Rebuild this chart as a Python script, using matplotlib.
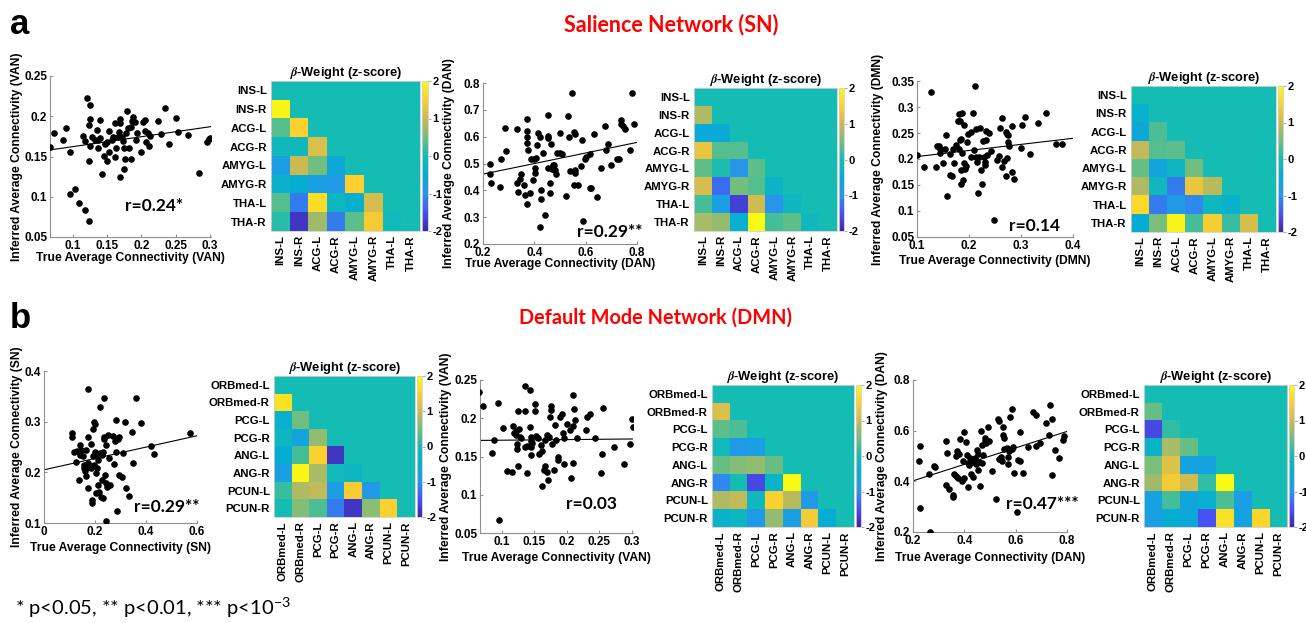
import numpy as np
import matplotlib
matplotlib.use('Agg')
import matplotlib.pyplot as plt
from matplotlib.colors import LinearSegmentedColormap

plt.rcParams['font.family'] = ['Liberation Sans', 'DejaVu Sans']
plt.rcParams['font.weight'] = 'bold'
plt.rcParams['axes.labelweight'] = 'bold'
plt.rcParams['axes.titleweight'] = 'bold'
plt.rcParams['axes.unicode_minus'] = False
plt.rcParams['mathtext.fontset'] = 'stix'

W, H = 1306, 623

# parula-like colormap
parula = LinearSegmentedColormap.from_list('parula', [
    (0.2422, 0.1504, 0.6603), (0.2810, 0.3228, 0.9579), (0.1540, 0.5902, 0.9218),
    (0.0250, 0.6800, 0.8300), (0.0800, 0.7400, 0.7100), (0.4420, 0.7481, 0.5033),
    (0.7964, 0.7258, 0.3361), (0.9892, 0.8136, 0.1885), (0.9769, 0.9839, 0.0805)])

sn_rois = ['INS-L', 'INS-R', 'ACG-L', 'ACG-R', 'AMYG-L', 'AMYG-R', 'THA-L', 'THA-R']
dmn_rois = ['ORBmed-L', 'ORBmed-R', 'PCG-L', 'PCG-R', 'ANG-L', 'ANG-R', 'PCUN-L', 'PCUN-R']

# beta weights, lower triangle (row i -> columns 0..i-1)
w_sn_van = [[], [1.95], [0.35, 1.5], [-0.15, -0.15, 1.15], [-0.8, 1.0, 0.5, -0.6],
            [-0.35, -0.5, -0.8, -0.9, 1.5], [0.35, -1.2, 1.65, -0.2, -0.4, 1.1],
            [0.1, -1.8, 0.75, -1.2, 0.4, 1.4, -0.1]]
w_sn_dan = [[], [0.85], [-0.55, -0.55], [1.3, 0.35, 0.35], [0.4, 0.05, -1.0, 0.4],
            [1.1, -1.3, 0.5, 0.35, -0.3], [0.25, -0.8, -1.7, 1.05, -1.0, -0.2],
            [0.8, 0.7, -0.45, 2.0, 0.25, 0.4, -0.15]]
w_sn_dmn = [[], [-0.4], [-0.6, 0.3], [0.95, 0.35, 0.4], [0.45, -0.7, -0.25, 0.5],
            [0.85, -0.15, -1.2, 1.3, 0.9], [1.6, -1.2, -0.9, -1.1, -0.15, -0.35],
            [-0.5, 0.55, 1.9, 0.25, 1.45, 0.2, 1.1]]
w_dmn_sn = [[], [1.7], [-0.4, 0.5], [-0.2, -0.7, 0.7], [-0.5, 0.25, 1.5, -1.8],
            [-0.8, 1.95, 0.8, -0.1, -0.25], [0.2, 0.85, 0.95, -0.85, 1.45, -0.9],
            [0.0, 0.6, 0.3, -1.2, -1.8, 0.65, 1.5]]
w_dmn_van = [[], [1.15], [0.4, 0.3], [-0.1, -0.9, -0.8], [0.45, 0.6, 0.7, 0.45],
             [-1.1, 0.0, -1.6, -0.3, 2.0], [0.85, 0.95, -0.15, 1.5, 0.9, -0.9],
             [-0.35, -0.2, -0.9, 0.7, -0.8, 1.4, -0.5]]
w_dmn_dan = [[], [0.45], [-1.6, 0.15], [-0.3, 0.8, 0.45], [0.55, 1.2, -0.75, -0.75],
             [0.75, 1.4, 1.05, 0.15, 2.0], [-0.75, 0.25, -0.7, -0.4, 0.3, -0.8],
             [-0.8, -0.5, -0.6, -1.5, 1.7, -0.75, 1.55]]

# scatter points (true, inferred)
sc_sn_van = np.array([
    (0.066, 0.162), (0.072, 0.179), (0.085, 0.171), (0.089, 0.186), (0.095, 0.155), (0.095, 0.104),
    (0.103, 0.110), (0.108, 0.092), (0.117, 0.083), (0.123, 0.070), (0.120, 0.223), (0.125, 0.214),
    (0.124, 0.196), (0.123, 0.189), (0.124, 0.163), (0.123, 0.145), (0.115, 0.176), (0.117, 0.169),
    (0.128, 0.174), (0.132, 0.171), (0.135, 0.183), (0.136, 0.171), (0.137, 0.160), (0.140, 0.195),
    (0.140, 0.173), (0.142, 0.128), (0.145, 0.151), (0.147, 0.166), (0.149, 0.168), (0.150, 0.145),
    (0.152, 0.156), (0.153, 0.182), (0.157, 0.171), (0.158, 0.174), (0.161, 0.149), (0.162, 0.191),
    (0.163, 0.161), (0.165, 0.174), (0.167, 0.180), (0.168, 0.125), (0.168, 0.191), (0.169, 0.197),
    (0.171, 0.174), (0.173, 0.169), (0.174, 0.135), (0.174, 0.161), (0.176, 0.147), (0.178, 0.179),
    (0.179, 0.206), (0.180, 0.185), (0.182, 0.160), (0.184, 0.187), (0.185, 0.147), (0.186, 0.194),
    (0.187, 0.199), (0.190, 0.193), (0.192, 0.170), (0.194, 0.179), (0.199, 0.155), (0.202, 0.193),
    (0.205, 0.195), (0.205, 0.182), (0.206, 0.168), (0.210, 0.179), (0.211, 0.163), (0.213, 0.176),
    (0.225, 0.194), (0.228, 0.178), (0.234, 0.210), (0.241, 0.165), (0.250, 0.198), (0.253, 0.181),
    (0.269, 0.177), (0.284, 0.130), (0.296, 0.168), (0.299, 0.172), (0.301, 0.173)])
sc_sn_dan = np.array([
    (0.226, 0.500), (0.226, 0.460), (0.231, 0.426), (0.269, 0.517), (0.268, 0.411), (0.284, 0.633),
    (0.291, 0.546), (0.334, 0.629), (0.334, 0.429), (0.336, 0.393), (0.343, 0.442), (0.349, 0.462),
    (0.360, 0.420), (0.365, 0.383), (0.370, 0.348), (0.373, 0.665), (0.373, 0.621), (0.373, 0.600),
    (0.373, 0.577), (0.375, 0.550), (0.382, 0.389), (0.388, 0.515), (0.395, 0.439), (0.399, 0.515),
    (0.401, 0.482), (0.401, 0.463), (0.408, 0.519), (0.412, 0.569), (0.414, 0.612), (0.421, 0.600),
    (0.425, 0.401), (0.425, 0.367), (0.434, 0.540), (0.440, 0.309), (0.421, 0.262), (0.452, 0.680),
    (0.452, 0.604), (0.455, 0.596), (0.455, 0.483), (0.460, 0.426), (0.460, 0.389), (0.466, 0.571),
    (0.469, 0.478), (0.473, 0.496), (0.478, 0.493), (0.479, 0.476), (0.483, 0.461), (0.488, 0.538),
    (0.499, 0.538), (0.506, 0.534), (0.499, 0.614), (0.525, 0.379), (0.532, 0.677), (0.535, 0.598),
    (0.538, 0.472), (0.547, 0.763), (0.553, 0.618), (0.560, 0.609), (0.555, 0.419), (0.558, 0.476),
    (0.560, 0.466), (0.570, 0.420), (0.583, 0.491), (0.587, 0.587), (0.590, 0.285), (0.596, 0.518),
    (0.603, 0.523), (0.616, 0.534), (0.618, 0.410), (0.622, 0.408), (0.632, 0.611), (0.645, 0.374),
    (0.658, 0.482), (0.677, 0.639), (0.679, 0.552), (0.687, 0.574), (0.700, 0.494), (0.723, 0.517),
    (0.730, 0.517), (0.736, 0.661), (0.739, 0.649), (0.745, 0.640), (0.752, 0.630), (0.771, 0.552),
    (0.779, 0.763), (0.787, 0.649)])
sc_sn_dmn = np.array([
    (0.100, 0.208), (0.114, 0.184), (0.126, 0.329), (0.136, 0.185), (0.138, 0.225), (0.142, 0.225),
    (0.145, 0.212), (0.145, 0.220), (0.150, 0.192), (0.154, 0.220), (0.156, 0.247), (0.158, 0.128),
    (0.163, 0.209), (0.163, 0.169), (0.167, 0.167), (0.170, 0.220), (0.172, 0.193), (0.175, 0.226),
    (0.178, 0.273), (0.180, 0.286), (0.180, 0.219), (0.182, 0.273), (0.183, 0.236), (0.185, 0.152),
    (0.185, 0.238), (0.187, 0.289), (0.187, 0.212), (0.185, 0.178), (0.188, 0.159), (0.190, 0.265),
    (0.191, 0.193), (0.192, 0.181), (0.195, 0.187), (0.197, 0.232), (0.198, 0.248), (0.203, 0.252),
    (0.203, 0.203), (0.207, 0.289), (0.210, 0.218), (0.212, 0.341), (0.213, 0.257), (0.214, 0.203),
    (0.215, 0.195), (0.217, 0.134), (0.219, 0.203), (0.222, 0.260), (0.224, 0.179), (0.225, 0.151),
    (0.227, 0.234), (0.228, 0.204), (0.230, 0.189), (0.231, 0.194), (0.233, 0.236), (0.233, 0.254),
    (0.235, 0.207), (0.238, 0.250), (0.242, 0.216), (0.249, 0.082), (0.254, 0.199), (0.257, 0.206),
    (0.260, 0.259), (0.263, 0.279), (0.263, 0.185), (0.267, 0.197), (0.272, 0.168), (0.273, 0.201),
    (0.272, 0.252), (0.273, 0.249), (0.275, 0.232), (0.275, 0.246), (0.276, 0.225), (0.283, 0.264),
    (0.283, 0.175), (0.286, 0.162), (0.300, 0.222), (0.301, 0.266), (0.307, 0.280), (0.318, 0.210),
    (0.332, 0.270), (0.348, 0.289), (0.367, 0.228), (0.378, 0.228)])
sc_dmn_sn = np.array([
    (0.109, 0.278), (0.109, 0.270), (0.118, 0.241), (0.126, 0.221), (0.131, 0.242), (0.138, 0.185),
    (0.142, 0.253), (0.142, 0.234), (0.147, 0.244), (0.151, 0.232), (0.155, 0.215), (0.157, 0.208),
    (0.161, 0.202), (0.165, 0.192), (0.165, 0.244), (0.171, 0.270), (0.173, 0.169), (0.174, 0.218),
    (0.178, 0.211), (0.183, 0.255), (0.185, 0.208), (0.187, 0.139), (0.190, 0.146), (0.191, 0.285),
    (0.194, 0.232), (0.197, 0.215), (0.197, 0.300), (0.201, 0.295), (0.201, 0.241), (0.204, 0.198),
    (0.204, 0.160), (0.204, 0.236), (0.207, 0.208), (0.210, 0.224), (0.211, 0.175), (0.214, 0.162),
    (0.174, 0.365), (0.220, 0.329), (0.218, 0.239), (0.224, 0.152), (0.227, 0.234), (0.229, 0.185),
    (0.232, 0.149), (0.233, 0.241), (0.236, 0.346), (0.236, 0.270), (0.237, 0.266), (0.240, 0.195),
    (0.242, 0.253), (0.244, 0.103), (0.244, 0.179), (0.246, 0.172), (0.252, 0.274), (0.256, 0.228),
    (0.260, 0.175), (0.272, 0.272), (0.275, 0.217), (0.278, 0.261), (0.282, 0.240), (0.283, 0.303),
    (0.286, 0.124), (0.290, 0.265), (0.295, 0.194), (0.296, 0.270), (0.305, 0.190), (0.309, 0.238),
    (0.318, 0.300), (0.322, 0.170), (0.334, 0.154), (0.347, 0.279), (0.348, 0.218), (0.362, 0.346),
    (0.381, 0.297), (0.421, 0.252), (0.430, 0.236), (0.571, 0.278)])
sc_dmn_van = np.array([
    (0.065, 0.234), (0.071, 0.216), (0.088, 0.171), (0.084, 0.155), (0.094, 0.220), (0.095, 0.067),
    (0.102, 0.187), (0.107, 0.131), (0.116, 0.130), (0.117, 0.190), (0.118, 0.181), (0.121, 0.183),
    (0.122, 0.178), (0.123, 0.166), (0.123, 0.160), (0.125, 0.137), (0.125, 0.209), (0.126, 0.186),
    (0.128, 0.175), (0.130, 0.174), (0.135, 0.242), (0.136, 0.209), (0.136, 0.163), (0.138, 0.128),
    (0.139, 0.164), (0.143, 0.237), (0.143, 0.188), (0.144, 0.163), (0.144, 0.175), (0.145, 0.152),
    (0.145, 0.170), (0.146, 0.167), (0.151, 0.218), (0.151, 0.209), (0.153, 0.177), (0.156, 0.174),
    (0.157, 0.153), (0.160, 0.165), (0.161, 0.157), (0.162, 0.112), (0.164, 0.132), (0.166, 0.171),
    (0.167, 0.138), (0.169, 0.178), (0.170, 0.130), (0.171, 0.176), (0.171, 0.119), (0.173, 0.176),
    (0.174, 0.202), (0.175, 0.211), (0.176, 0.216), (0.177, 0.166), (0.180, 0.132), (0.182, 0.191),
    (0.183, 0.171), (0.187, 0.150), (0.187, 0.145), (0.190, 0.201), (0.192, 0.205), (0.194, 0.181),
    (0.195, 0.174), (0.196, 0.140), (0.200, 0.193), (0.205, 0.184), (0.207, 0.122), (0.209, 0.190),
    (0.210, 0.231), (0.210, 0.142), (0.211, 0.212), (0.213, 0.198), (0.216, 0.174), (0.229, 0.184),
    (0.231, 0.201), (0.235, 0.206), (0.243, 0.174), (0.252, 0.129), (0.254, 0.153), (0.256, 0.214),
    (0.272, 0.162), (0.288, 0.140), (0.298, 0.166), (0.301, 0.199), (0.302, 0.188)])
sc_dmn_dan = np.array([
    (0.226, 0.541), (0.223, 0.481), (0.229, 0.295), (0.265, 0.199), (0.263, 0.430), (0.281, 0.461),
    (0.285, 0.456), (0.330, 0.560), (0.330, 0.384), (0.334, 0.511), (0.341, 0.370), (0.354, 0.347),
    (0.356, 0.337), (0.359, 0.429), (0.367, 0.501), (0.367, 0.422), (0.372, 0.518), (0.376, 0.413),
    (0.379, 0.509), (0.383, 0.566), (0.389, 0.406), (0.392, 0.400), (0.396, 0.481), (0.398, 0.593),
    (0.399, 0.415), (0.406, 0.555), (0.409, 0.502), (0.413, 0.472), (0.415, 0.376), (0.419, 0.465),
    (0.422, 0.494), (0.426, 0.429), (0.428, 0.476), (0.435, 0.419), (0.441, 0.494), (0.445, 0.469),
    (0.450, 0.524), (0.454, 0.507), (0.454, 0.446), (0.458, 0.475), (0.461, 0.380), (0.465, 0.599),
    (0.467, 0.544), (0.467, 0.472), (0.471, 0.502), (0.480, 0.560), (0.480, 0.570), (0.484, 0.553),
    (0.493, 0.616), (0.497, 0.560), (0.506, 0.439), (0.523, 0.331), (0.530, 0.645), (0.535, 0.639),
    (0.536, 0.488), (0.543, 0.498), (0.546, 0.481), (0.552, 0.616), (0.552, 0.583), (0.555, 0.570),
    (0.556, 0.528), (0.565, 0.531), (0.569, 0.468), (0.572, 0.498), (0.575, 0.518), (0.578, 0.652),
    (0.585, 0.685), (0.585, 0.527), (0.589, 0.534), (0.594, 0.433), (0.604, 0.279), (0.611, 0.485),
    (0.615, 0.594), (0.617, 0.481), (0.628, 0.433), (0.647, 0.534), (0.669, 0.673), (0.678, 0.662),
    (0.678, 0.538), (0.695, 0.551), (0.719, 0.629), (0.728, 0.583), (0.735, 0.702), (0.741, 0.646),
    (0.741, 0.426), (0.754, 0.524), (0.767, 0.492), (0.783, 0.564), (0.787, 0.580)])

# fit lines (slope, intercept) and r labels
fits = [(0.123, 0.150), (0.197, 0.421), (0.117, 0.193), (0.112, 0.205), (0.008, 0.1705), (0.325, 0.337)]
r_text = ['r=0.24*', 'r=0.29**', 'r=0.14', 'r=0.29**', 'r=0.03', 'r=0.47***']
net_x = ['VAN', 'DAN', 'DMN', 'SN', 'VAN', 'DAN']

fig = plt.figure(figsize=(W / 100, H / 100), dpi=100)


def box(l, t, r, b):
    return fig.add_axes([l / W, 1 - b / H, (r - l) / W, (b - t) / H])


def scatter_panel(pos, pts, fit, xlim, ylim, xt, yt, xtl, ytl, rt, rpos, net, ylx, xly):
    ax = box(*pos)
    ax.scatter(pts[:, 0], pts[:, 1], s=14, c='k', zorder=3)
    xs = np.array(xlim)
    ax.plot(xs, fit[0] * xs + fit[1], color='k', lw=0.8)
    ax.set_xlim(xlim)
    ax.set_ylim(ylim)
    for s in ['top', 'right']:
        ax.spines[s].set_visible(False)
    for s in ['left', 'bottom']:
        ax.spines[s].set_color('#909090')
        ax.spines[s].set_linewidth(0.8)
    ax.tick_params(direction='in', length=2, color='#909090', pad=2)
    ax.set_xticks(xt)
    ax.set_xticklabels(xtl, fontweight='bold', fontsize=8.5)
    ax.set_yticks(yt)
    ax.set_yticklabels(ytl, fontweight='bold', fontsize=8.5)
    ax.set_xlabel('True Average Connectivity (%s)' % net, fontsize=8.7, fontweight='bold')
    ax.set_ylabel('Inferred Average Connectivity (%s)' % net, fontsize=8.7, fontweight='bold')
    ax.yaxis.set_label_coords(ylx, 0.5)
    ax.xaxis.set_label_coords(0.5, xly)
    ax.text(rpos[0], rpos[1], rt, transform=ax.transAxes, ha='center', va='center',
            fontsize=12.5, family='Lato', fontweight='bold')
    return ax


def heat_panel(pos, cpos, tri, labels):
    m = np.zeros((8, 8))
    for i, row in enumerate(tri):
        m[i, :len(row)] = row
    ax = box(*pos)
    im = ax.imshow(m, cmap=parula, vmin=-2, vmax=2, aspect='auto', interpolation='nearest')
    ax.tick_params(length=0, pad=3)
    ax.set_xticks(range(8))
    ax.set_xticklabels(labels, rotation=90, fontweight='bold', fontsize=8.2)
    ax.set_yticks(range(8))
    ax.set_yticklabels(labels, fontweight='bold', fontsize=8.2)
    for s in ax.spines.values():
        s.set_color('#d0d0d0')
        s.set_linewidth(0.6)
    ax.set_title(r'$\it{\beta}$-Weight (z-score)', fontsize=9.3, fontweight='bold', pad=3)
    cax = box(*cpos)
    cb = fig.colorbar(im, cax=cax, ticks=[-2, -1, 0, 1, 2])
    cb.outline.set_edgecolor('#d0d0d0')
    cb.outline.set_linewidth(0.6)
    cax.tick_params(length=2, pad=1, color='#b0b0b0')
    cax.set_yticks([-2, -1, 0, 1, 2])
    cax.set_yticklabels(['-2', '-1', '0', '1', '2'], fontweight='bold', fontsize=8)
    return ax


sc_data = [sc_sn_van, sc_sn_dan, sc_sn_dmn, sc_dmn_sn, sc_dmn_van, sc_dmn_dan]
sc_pos = [(50, 76, 211, 237), (483, 83, 637, 244), (917, 81, 1073, 237),
          (44, 371, 197, 523), (480, 380, 633, 533), (913, 380, 1067, 532)]
r_pos = [(0.646, 0.19), (0.82, 0.075), (0.756, 0.07), (0.80, 0.105), (0.73, 0.19), (0.84, 0.184)]
ylab_x = [-0.168, -0.185, -0.21, -0.137, -0.183, -0.165]
xlab_y = [-0.093, -0.085, -0.115, -0.125, -0.124, -0.13]

van_xt = [0.1, 0.15, 0.2, 0.25, 0.3]
van_yt = [0.05, 0.1, 0.15, 0.2, 0.25]
dan_t = [0.2, 0.4, 0.6, 0.8]

scatter_panel(sc_pos[0], sc_data[0], fits[0], (0.066, 0.302), (0.05, 0.25), van_xt, van_yt,
              ['0.1', '0.15', '0.2', '0.25', '0.3'], ['0.05', '0.1', '0.15', '0.2', '0.25'],
              r_text[0], r_pos[0], net_x[0], ylab_x[0], xlab_y[0])
scatter_panel(sc_pos[1], sc_data[1], fits[1], (0.2, 0.8), (0.2, 0.8), dan_t,
              [0.2, 0.3, 0.4, 0.5, 0.6, 0.7, 0.8], ['0.2', '0.4', '0.6', '0.8'],
              ['0.2', '0.3', '0.4', '0.5', '0.6', '0.7', '0.8'], r_text[1], r_pos[1], net_x[1],
              ylab_x[1], xlab_y[1])
scatter_panel(sc_pos[2], sc_data[2], fits[2], (0.1, 0.4), (0.05, 0.35), [0.1, 0.2, 0.3, 0.4],
              [0.05, 0.1, 0.15, 0.2, 0.25, 0.3, 0.35], ['0.1', '0.2', '0.3', '0.4'],
              ['0.05', '0.1', '0.15', '0.2', '0.25', '0.3', '0.35'], r_text[2], r_pos[2], net_x[2],
              ylab_x[2], xlab_y[2])
scatter_panel(sc_pos[3], sc_data[3], fits[3], (0, 0.6), (0.1, 0.4), [0, 0.2, 0.4, 0.6],
              [0.1, 0.2, 0.3, 0.4], ['0', '0.2', '0.4', '0.6'], ['0.1', '0.2', '0.3', '0.4'],
              r_text[3], r_pos[3], net_x[3], ylab_x[3], xlab_y[3])
scatter_panel(sc_pos[4], sc_data[4], fits[4], (0.066, 0.302), (0.05, 0.25), van_xt, van_yt,
              ['0.1', '0.15', '0.2', '0.25', '0.3'], ['0.05', '0.1', '0.15', '0.2', '0.25'],
              r_text[4], r_pos[4], net_x[4], ylab_x[4], xlab_y[4])
scatter_panel(sc_pos[5], sc_data[5], fits[5], (0.2, 0.8), (0.2, 0.8), dan_t, dan_t,
              ['0.2', '0.4', '0.6', '0.8'], ['0.2', '0.4', '0.6', '0.8'], r_text[5], r_pos[5],
              net_x[5], ylab_x[5], xlab_y[5])

heat_panel((271, 81, 420, 231), (422, 81, 428, 231), w_sn_van, sn_rois)
heat_panel((694, 88, 837, 231), (839, 88, 844, 231), w_sn_dan, sn_rois)
heat_panel((1131, 86, 1276, 232), (1278, 86, 1283, 232), w_sn_dmn, sn_rois)
heat_panel((274, 376, 415, 517), (417, 376, 422, 517), w_dmn_sn, dmn_rois)
heat_panel((712, 385, 854, 527), (856, 385, 861, 527), w_dmn_van, dmn_rois)
heat_panel((1144, 385, 1287, 527), (1289, 385, 1294, 527), w_dmn_dan, dmn_rois)

fig.text(10 / W, 1 - 25 / H, 'a', fontsize=25, fontweight='bold', va='center')
fig.text(10 / W, 1 - 318 / H, 'b', fontsize=25, fontweight='bold', va='center')
fig.text(671 / W, 1 - 25 / H, 'Salience Network (SN)', color='#ff0000', fontsize=15.5,
         family='Lato', fontweight='bold', ha='center', va='center')
fig.text(656 / W, 1 - 318 / H, 'Default Mode Network (DMN)', color='#ff0000', fontsize=14.3,
         family='Lato', fontweight='bold', ha='center', va='center')
fig.text(15 / W, 1 - 608 / H, r'* p<0.05, ** p<0.01, *** p<10$^{\mathregular{-3}}$', fontsize=14.5,
         family='Lato', fontweight='normal', va='center')

fig.savefig('out.png', dpi=100)
